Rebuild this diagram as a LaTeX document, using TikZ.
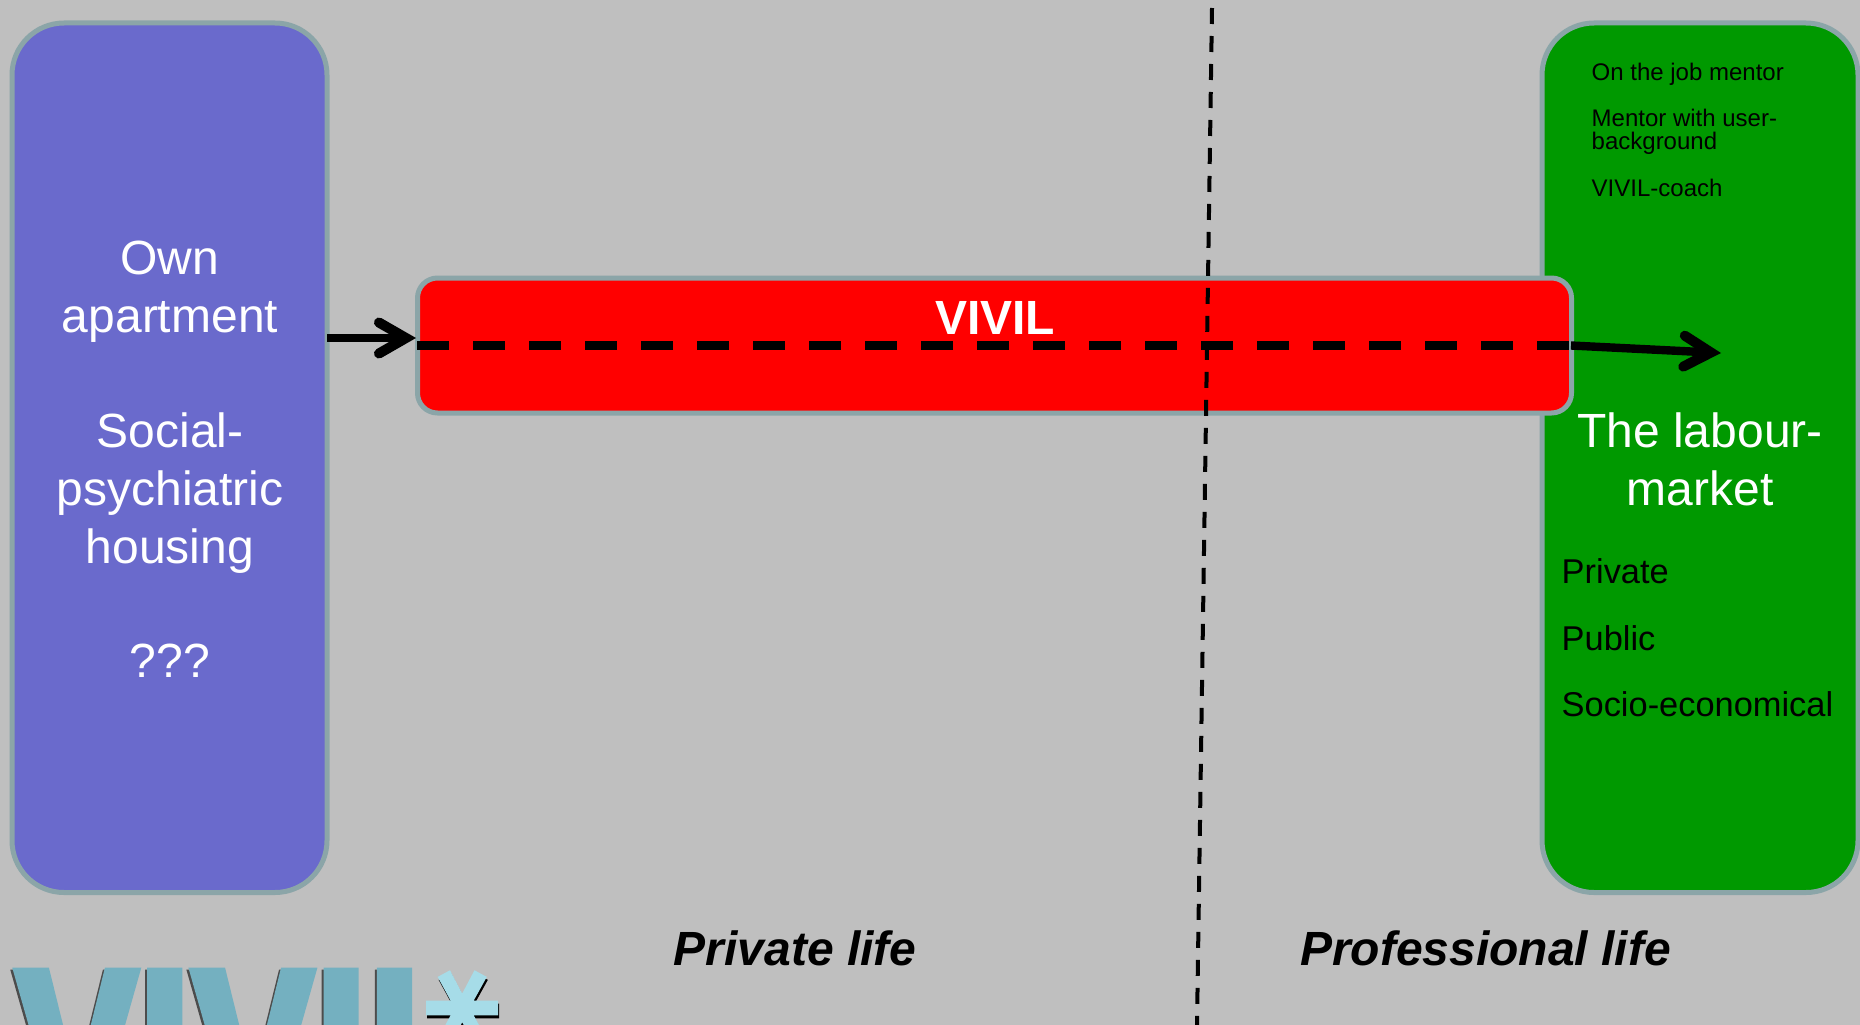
\documentclass[tikz,border=0pt]{standalone}
\usepackage{fontspec}
\setmainfont{Liberation Sans}
\newfontfamily\logofont[FakeBold=4,FakeStretch=0.77,LetterSpace=1.6]{Liberation Sans Bold}
\newfontfamily\starfont[FakeBold=1.5]{DejaVu Sans Bold}
\usetikzlibrary{arrows.meta}
\definecolor{bgc}{HTML}{BFBFBF}
\definecolor{edgec}{HTML}{8BA5A8}
\definecolor{bluec}{HTML}{6A6ACC}
\definecolor{greenc}{HTML}{009900}
\definecolor{logoc}{HTML}{74B0C0}
\definecolor{starc}{HTML}{A6DCE8}
\newcommand{\fs}[2]{\fontsize{#1}{#2}\selectfont\lineskiplimit=-100pt\relax}
\tikzset{
  panel/.style={draw=edgec,line width=5pt,rounded corners=52pt,inner sep=0pt},
  bar/.style={draw=edgec,line width=5pt,rounded corners=20pt,inner sep=0pt,fill=red},
  bigtext/.style={text=white,font=\fs{48}{57.6},align=center,inner sep=0pt,anchor=north},
  small/.style={text=black,font=\fs{24}{23},align=left,inner sep=0pt,anchor=base west},
  mid/.style={text=black,font=\fs{34.4}{40},inner sep=0pt,anchor=base west},
  head/.style={text=black,font=\fs{48}{58}\bfseries\itshape,inner sep=0pt,anchor=base west},
  conn/.style={line width=8.4pt,-{Straight Barb[length=27pt,width=31pt,line cap=round,line width=10pt]}},
}
\begin{document}
\begin{tikzpicture}[x=1pt,y=-1pt]
\useasboundingbox[fill=bgc] (0,0) rectangle (1860,1025);
\clip (0,0) rectangle (1860,1025);
\node[panel,fill=bluec,minimum width=315pt,minimum height=869.5pt] (housing) at (169.5,457.75) {};
\node[panel,fill=greenc,minimum width=316pt,minimum height=869.5pt] (market) at (1700,457.75) {};
\node[bar,minimum width=1154pt,minimum height=135pt] (vivilbar) at (994.5,345.5) {};
\node[bigtext] (vivil) at (995,294.3) {\strut\bfseries VIVIL};
\node[bigtext] (own) at (170,234.3) {\strut Own\\apartment};
\node[bigtext] (social) at (170,407.3) {\strut Social-\\psychiatric\\housing};
\node[bigtext] (unknown) at (170,637.3) {\strut ???};
\node[bigtext] (labour) at (1700,407.3) {\strut The labour-\\market};
\node[small] (m1) at (1591.5,81) {On the job mentor};
\node[small,anchor=north west] (m2) at (1591.5,109) {\strut Mentor with user-\\background};
\node[small] (m3) at (1591.5,196) {VIVIL-coach};
\node[mid] (p1) at (1561.5,583) {Private};
\node[mid] (p2) at (1561.5,650) {Public};
\node[mid] (p3) at (1561.5,716) {Socio-economical};
\node[head] (private) at (673.5,965) {Private life};
\node[head] (professional) at (1300,965) {Professional life};
\coordinate (lineS) at (417,345.5);
\coordinate (lineE) at (1571,345.5);
\coordinate (arrowA) at (327,338);
\coordinate (arrowB) at (416,338);
\coordinate (arrowC) at (1721,353);
\coordinate (divTop) at (1212,8);
\coordinate (divBot) at (1197,1025);
\draw[line width=8.4pt,dash pattern=on 32pt off 24pt] (lineS) -- (lineE);
\draw[conn] (arrowA) -- (arrowB);
\draw[conn] (lineE) -- (arrowC);
\draw[line width=4pt,dash pattern=on 16pt off 12pt] (divTop) -- (divBot);
\node[text=black!70,font=\fs{232}{232}\logofont,inner sep=0pt,anchor=base west] (logoS) at (15,1134) {VIVIL};
\node[text=logoc,font=\fs{232}{232}\logofont,inner sep=0pt,anchor=base west] (logo) at (17,1132) {VIVIL};
\node[text=black,font=\fs{150}{150}\starfont,inner sep=0pt,rotate=90] (starS) at (484,1011) {*};
\node[text=starc,font=\fs{150}{150}\starfont,inner sep=0pt,rotate=90] (star) at (483,1008) {*};
\end{tikzpicture}
\end{document}
